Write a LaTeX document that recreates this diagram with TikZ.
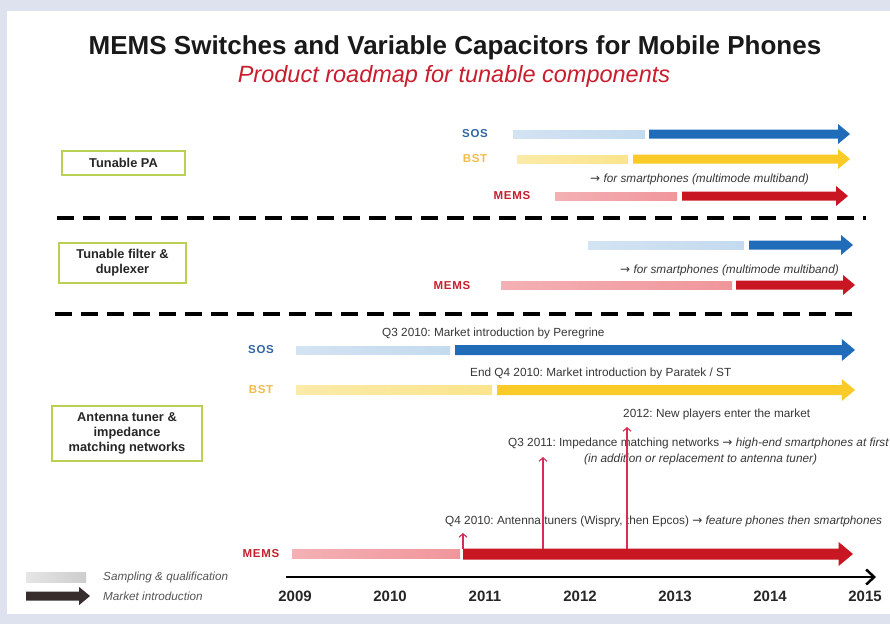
\documentclass[tikz,border=0pt]{standalone}
\usepackage{fontspec}
\setmainfont{Liberation Sans}
\newfontfamily\arrowfont{DejaVu Sans}
\usetikzlibrary{arrows.meta}
\definecolor{bgout}{RGB}{222,226,238}
\definecolor{dkblue}{RGB}{33,108,185}
\definecolor{ltblue}{RGB}{196,218,238}
\definecolor{dkyellow}{RGB}{250,202,40}
\definecolor{ltyellow}{RGB}{250,228,140}
\definecolor{dkred}{RGB}{200,22,35}
\definecolor{ltred}{RGB}{240,150,155}
\definecolor{lblblue}{RGB}{50,100,160}
\definecolor{lblyellow}{RGB}{240,188,70}
\definecolor{lblred}{RGB}{200,30,45}
\definecolor{boxgreen}{RGB}{185,208,85}
\definecolor{txtgray}{RGB}{55,55,55}
\definecolor{legtxt}{RGB}{85,85,85}
\definecolor{leggray}{RGB}{205,205,205}
\definecolor{legdark}{RGB}{55,45,45}
\definecolor{pinkline}{RGB}{215,45,85}
\definecolor{subred}{RGB}{200,30,45}
\newcommand\RoadBar[5]{% x1, x2, y, colour, thickness
  \shade[left color=#4!75!white, right color=#4] ({#1},{#3-#5/2}) rectangle ({#2},{#3+#5/2});}
\newcommand\RoadArrow[6]{% x1, x2, y, colour, shaft, head
  \fill[#4] ({#1},{#3-#5/2}) -- ({#2-0.6*#6},{#3-#5/2}) -- ({#2-0.6*#6},{#3-#6/2}) -- ({#2},{#3})
    -- ({#2-0.6*#6},{#3+#6/2}) -- ({#2-0.6*#6},{#3+#5/2}) -- ({#1},{#3+#5/2}) -- cycle;}
\newcommand\rarr{{\arrowfont\fontsize{12}{12}\selectfont →}}
\frenchspacing
\begin{document}
\begin{tikzpicture}[x=1pt,y=-1pt,
  lbl/.style={font=\fontsize{11.5}{12}\selectfont\bfseries\addfontfeature{LetterSpace=6}, inner sep=0},
  desc/.style={font=\fontsize{11.8}{14}\selectfont, text=txtgray, inner sep=0, anchor=west},
  catbox/.style={draw=boxgreen, line width=1.3pt, align=center, inner sep=0,
    font=\fontsize{12.8}{15}\selectfont\bfseries, text=black!85},
  year/.style={font=\fontsize{15}{16}\selectfont\bfseries, text=black!85, inner sep=0},
  legend/.style={font=\fontsize{11.7}{13}\selectfont\itshape, text=legtxt, inner sep=0, anchor=west},
  sepline/.style={line width=3.5pt, dash pattern=on 17pt off 9pt},
  eventarrow/.style={draw=pinkline, line width=1.1pt, -{Straight Barb[length=3.5pt,width=8pt]}}
]
\useasboundingbox (0,0) rectangle (890,624);
\fill[bgout] (0,0) rectangle (890,624);
\fill[white] (7,11) rectangle (890,614);

% titles
\node[font=\fontsize{26}{30}\selectfont\bfseries, text=black!90, inner sep=0] (title) at (455,48) {MEMS Switches and Variable Capacitors for Mobile Phones};
\node[font=\fontsize{23.5}{26}\selectfont\itshape, text=subred, inner sep=0] (subtitle) at (454,76) {Product roadmap for tunable components};

% category boxes
\node[catbox, minimum width=123pt, minimum height=24pt] (pa) at (123.5,163) {Tunable PA};
\node[catbox, minimum width=127pt, minimum height=40pt] (filt) at (122.5,263) {Tunable filter \&\\duplexer};
\node[catbox, minimum width=150pt, minimum height=55pt] (ant) at (127,433.5) {Antenna tuner \&\\impedance\\matching networks};

% separators
\coordinate (d1a) at (57,218); \coordinate (d1b) at (866,218);
\coordinate (d2a) at (55,314); \coordinate (d2b) at (860,314);
\draw[sepline] (d1a) -- (d1b);
\draw[sepline] (d2a) -- (d2b);

% Tunable PA section
\node[lbl, text=lblblue] (pasos) at (475,134) {SOS};
\node[lbl, text=lblyellow] (pabst) at (475,159) {BST};
\node[lbl, text=lblred] (pamems) at (512,196) {MEMS};
\RoadBar{513}{645}{134}{ltblue}{8}
\RoadArrow{649}{850}{134}{dkblue}{9}{20}
\RoadBar{517}{628}{159}{ltyellow}{8}
\RoadArrow{633}{850}{159}{dkyellow}{9}{20}
\RoadBar{555}{677}{196}{ltred}{8}
\RoadArrow{682}{848}{196}{dkred}{9}{20}
\node[desc] (pasmart) at (590,179) {\rarr\ \itshape for smartphones (multimode multiband)};

% Tunable filter section
\RoadBar{588}{744}{245}{ltblue}{8}
\RoadArrow{749}{853}{245}{dkblue}{9}{20}
\node[desc] (fsmart) at (620,270) {\rarr\ \itshape for smartphones (multimode multiband)};
\node[lbl, text=lblred] (fmems) at (452,286) {MEMS};
\RoadBar{501}{732}{285}{ltred}{8}
\RoadArrow{736}{855}{285}{dkred}{9}{20}

% Antenna tuner section
\node[desc] (peregrine) at (382,333) {Q3 2010: Market introduction by Peregrine};
\node[lbl, text=lblblue] (asos) at (261,350) {SOS};
\RoadBar{296}{450}{350}{ltblue}{8}
\RoadArrow{455}{855}{350}{dkblue}{10}{22}
\node[desc] (paratek) at (470,373) {End Q4 2010: Market introduction by Paratek / ST};
\node[lbl, text=lblyellow] (abst) at (261,390) {BST};
\RoadBar{296}{492}{390}{ltyellow}{9}
\RoadArrow{497}{855}{390}{dkyellow}{10}{22}
\node[desc] (newpl) at (623,414) {2012: New players enter the market};
\node[desc] (q311) at (508,443) {Q3 2011: Impedance matching networks \rarr\ \itshape high-end smartphones at first};
\node[desc] (inadd) at (584,459) {\itshape (in addition or replacement to antenna tuner)};
\node[desc] (q410) at (445,521) {Q4 2010: Antenna tuners (Wispry, then Epcos) \rarr\ \itshape feature phones then smartphones};
\node[lbl, text=lblred] (amems) at (261,554) {MEMS};
\RoadBar{292}{460}{554}{ltred}{9}
\RoadArrow{463}{853}{554}{dkred}{11}{24}

% event arrows
\coordinate (v1s) at (463,549); \coordinate (v1e) at (463,533);
\coordinate (v2s) at (543,549); \coordinate (v2e) at (543,457);
\coordinate (v3s) at (627,549); \coordinate (v3e) at (627,427);
\draw[eventarrow] (v1s) -- (v1e);
\draw[eventarrow] (v2s) -- (v2e);
\draw[eventarrow] (v3s) -- (v3e);

% time axis
\coordinate (axs) at (286,577); \coordinate (axe) at (876,577);
\draw[line width=2.5pt, -{Straight Barb[length=8pt,width=15pt]}] (axs) -- (axe);
\foreach \yr [count=\i from 0] in {2009,2010,2011,2012,2013,2014,2015}
  \node[year] (y\yr) at ({295+95*\i},596) {\yr};

% legend
\shade[left color=leggray!50!white, right color=leggray] (26,572) rectangle (86,582);
\node[legend] (legs) at (103,577) {Sampling \& qualification};
\RoadArrow{26}{90}{596}{legdark}{9}{18}
\node[legend] (legm) at (103,596) {Market introduction};
\end{tikzpicture}
\end{document}
